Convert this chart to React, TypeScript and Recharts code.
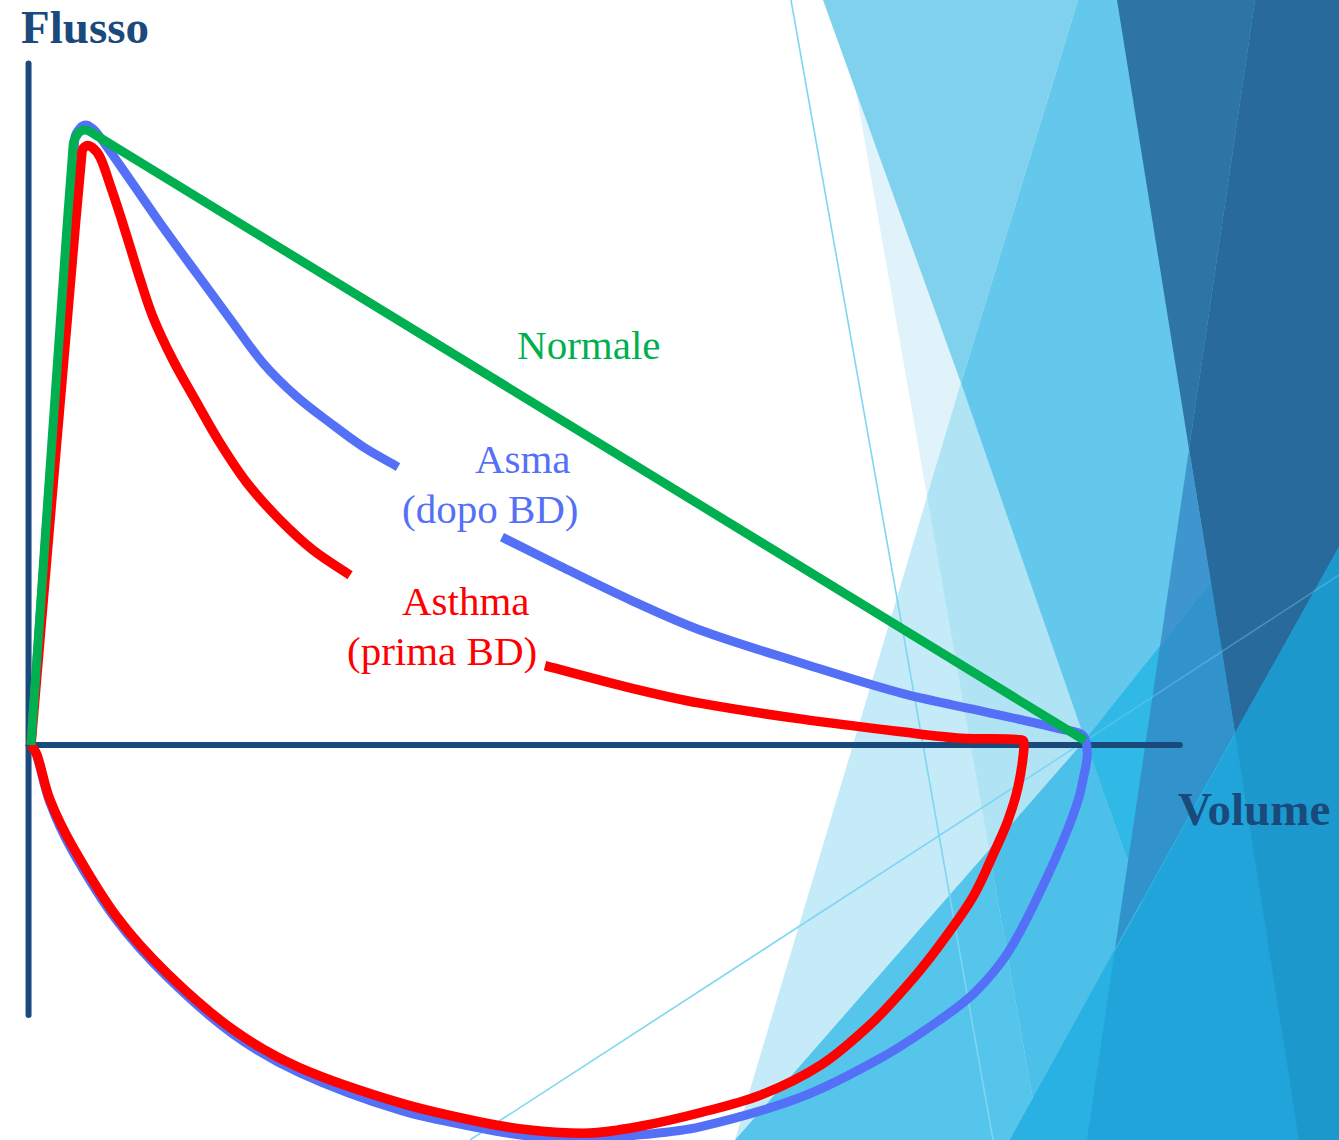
import React from "react";
import { LineChart, Line, XAxis, YAxis, ReferenceLine, ReferenceDot } from "recharts";

// ---------- DATA (volume in L, flow in L/s) ----------
const normaleVolume = [0, 0.24, 0.27, 0.31, 0.35, 6.0];
const normaleFlow = [0, 9.76, 9.95, 10.0, 9.95, 0.07];

const asmaDopoVolume = [
  0, 0.25, 0.279, 0.313, 0.347, 0.376, 0.564, 0.751, 0.945, 1.133, 1.321, 1.514, 1.702, 1.89, 2.089, 2.38,
  2.681, 3.011, 3.41, 3.808, 4.389, 4.97, 5.431, 5.858, 6.0, 5.98, 5.9, 5.74, 5.56, 5.374, 5.174, 4.85, 4.389,
  3.808, 3.467, 3.182, 2.841, 2.556, 2.101, 1.531, 1.15, 0.774, 0.49, 0.233, 0.108, 0.028, 0,
];
const asmaDopoFlow = [
  0, 9.87, 10.03, 10.08, 10.03, 9.95, 9.19, 8.42, 7.66, 6.93, 6.21, 5.66, 5.24, 4.85, 4.52, null,
  3.38, 2.91, 2.36, 1.87, 1.33, 0.83, 0.54, 0.26, 0.1, -0.68, -1.38, -2.41, -3.38, -4.02, -4.47, -5.07, -5.72,
  -6.21, -6.34, -6.39, -6.36, -6.23, -5.94, -5.33, -4.7, -3.77, -2.86, -1.71, -0.94, -0.13, 0,
];

const asthmaPrimaVolume = [
  0, 0.29, 0.313, 0.347, 0.393, 0.45, 0.507, 0.564, 0.62, 0.694, 0.808, 0.945, 1.076, 1.23, 1.417, 1.605,
  1.816, 2.35, 2.926, 3.41, 3.808, 4.389, 4.97, 5.294, 5.641, 5.653, 5.619, 5.562, 5.488, 5.362, 5.152, 4.975,
  4.776, 4.503, 4.156, 3.808, 3.467, 3.182, 2.841, 2.556, 2.101, 1.531, 1.15, 0.774, 0.49, 0.239, 0.108, 0.034,
  0,
];
const asthmaPrimaFlow = [
  0, 9.64, 9.74, 9.72, 9.56, 9.11, 8.62, 8.1, 7.58, 6.96, 6.26, 5.56, 4.91, 4.26, 3.66, 3.17,
  2.76, null, 1.29, 0.93, 0.68, 0.42, 0.21, 0.11, 0.08, -0.03, -0.68, -1.22, -1.71, -2.47, -3.33, -3.95,
  -4.55, -5.19, -5.69, -5.98, -6.2, -6.31, -6.26, -6.13, -5.82, -5.25, -4.63, -3.71, -2.8, -1.66, -0.89, -0.16,
  0,
];

const seriesLabels = ["Normale", "Asma", "(dopo BD)", "Asthma", "(prima BD)"];
const labelVolume = [2.767, 2.527, 2.112, 2.112, 1.799];
const labelFlow = [6.276, 4.423, 3.61, 2.114, 1.301];

const axisTitles = ["Flusso", "Volume"];
const axisTitleVolume = [-0.057, 6.529];
const axisTitleFlow = [11.415, -1.301];

// axis extents (data units)
const AXIS_X = -0.014;
const AXIS_TOP = 11.08;
const AXIS_BOTTOM = -4.39;
const AXIS_RIGHT = 6.54;

const X_DOMAIN: [number, number] = [-0.1765, 7.4458];
const Y_DOMAIN: [number, number] = [-6.423, 12.114];

const zip = (vs: number[], fs: (number | null)[]) => vs.map((v, i) => ({ v, f: fs[i] }));
const normaleData = zip(normaleVolume, normaleFlow);
const asmaData = zip(asmaDopoVolume, asmaDopoFlow);
const asthmaData = zip(asthmaPrimaVolume, asthmaPrimaFlow);

// ---------- STYLE ----------
const W = 1339;
const H = 1140;
const GREEN = "#00B050";
const BLUE = "#5470F6";
const RED = "#FF0000";
const NAVY = "#1A4A7C";
const SERIF = "'Liberation Serif', 'Times New Roman', serif";
const labelColors = [GREEN, BLUE, BLUE, RED, RED];

// decorative background facets
const bgFacets = [
  { p: "840,0 1339,0 1339,1140 1040,1140", c: "#E0F3FA" },
  { p: "961,383 735,1140 1227,1140", c: "#C5EBF8" },
  { p: "961,383 927,496 1040,1140 1227,1140", c: "#B0E4F5" },
  { p: "989,850 735,1140 1040,1140", c: "#55C5EB" },
  { p: "1085,740 989,850 1040,1140 1227,1140", c: "#4CC0E9" },
  { p: "1078,0 1339,0 1339,1140 1227,1140 1085,740 961,383", c: "#63C8EC" },
  { p: "1085,740 1339,421 1339,1140 1227,1140", c: "#30B8E6" },
  { p: "823,0 1078,0 961,383", c: "#7FD1EE" },
  { p: "1117,0 1255,0 1189,449", c: "#2E75A6" },
  { p: "1255,0 1339,0 1339,547 1235,733 1189,449", c: "#276A9B" },
  { p: "1189,449 1211,582 1160,646", c: "#3F96CE" },
  { p: "1160,646 1211,582 1235,733 1115,949", c: "#3192CC" },
  { p: "1339,547 1010,1140 1339,1140", c: "#20A4DA" },
  { p: "1235,733 1339,547 1339,1140 1299,1140", c: "#1C98CC" },
  { p: "1115,949 1010,1140 1087,1140", c: "#28B1E2" },
];
const bgStreaks = [
  { x1: 791, y1: 0, x2: 993, y2: 1140, o: 1 },
  { x1: 470, y1: 1140, x2: 1085, y2: 741, o: 1 },
  { x1: 1085, y1: 741, x2: 1339, y2: 575, o: 0.35 },
];

// smooth parametric curve (tangent from neighbours, length from segment)
const smoothCurve = (context: any) => {
  let pts: [number, number][] = [];
  return {
    areaStart() {},
    areaEnd() {},
    lineStart() {
      pts = [];
    },
    point(x: number, y: number) {
      pts.push([+x, +y]);
    },
    lineEnd() {
      if (!pts.length) return;
      context.moveTo(pts[0][0], pts[0][1]);
      if (pts.length === 1) {
        context.lineTo(pts[0][0], pts[0][1]);
        return;
      }
      const norm = (dx: number, dy: number) => {
        const l = Math.hypot(dx, dy) || 1;
        return [dx / l, dy / l];
      };
      for (let i = 0; i < pts.length - 1; i++) {
        const p0 = pts[i - 1] || pts[i];
        const p1 = pts[i];
        const p2 = pts[i + 1];
        const p3 = pts[i + 2] || p2;
        const d = Math.hypot(p2[0] - p1[0], p2[1] - p1[1]);
        const t1 = norm(p2[0] - p0[0], p2[1] - p0[1]);
        const t2 = norm(p3[0] - p1[0], p3[1] - p1[1]);
        context.bezierCurveTo(
          p1[0] + (t1[0] * d) / 3,
          p1[1] + (t1[1] * d) / 3,
          p2[0] - (t2[0] * d) / 3,
          p2[1] - (t2[1] * d) / 3,
          p2[0],
          p2[1]
        );
      }
    },
  };
};

const makeTextLabel = (text: string, color: string, size: number, bold: boolean) => (props: any) => {
  const vb = props.viewBox || {};
  const x = (vb.x ?? props.x ?? 0) + (vb.width ?? 0) / 2;
  const y = (vb.y ?? props.y ?? 0) + (vb.height ?? 0) / 2;
  return (
    <text
      x={x}
      y={y}
      fill={color}
      fontSize={size}
      fontFamily={SERIF}
      fontWeight={bold ? "bold" : "normal"}
      textAnchor="start"
    >
      {text}
    </text>
  );
};

const lineCommon = {
  dataKey: "f",
  dot: false,
  activeDot: false,
  isAnimationActive: false,
  strokeLinejoin: "round" as const,
  type: smoothCurve as any,
  connectNulls: false,
};

export default function App() {
  return (
    <div
      style={{
        position: "absolute",
        left: 0,
        top: 0,
        width: W,
        height: H,
        background: "#ffffff",
        overflow: "hidden",
      }}
    >
      <svg width={W} height={H} style={{ position: "absolute", left: 0, top: 0 }}>
        {bgFacets.map((f, i) => (
          <polygon key={i} points={f.p} fill={f.c} />
        ))}
        {bgStreaks.map((s, i) => (
          <line
            key={i}
            x1={s.x1}
            y1={s.y1}
            x2={s.x2}
            y2={s.y2}
            stroke="#7ED6F2"
            strokeOpacity={s.o}
            strokeWidth={1.6}
          />
        ))}
      </svg>
      <div style={{ position: "absolute", left: 0, top: 0 }}>
        <LineChart width={W} height={H} margin={{ top: 0, right: 0, bottom: 0, left: 0 }}>
          <XAxis type="number" dataKey="v" domain={X_DOMAIN} hide allowDataOverflow />
          <YAxis type="number" domain={Y_DOMAIN} hide allowDataOverflow />
          <ReferenceLine
            segment={[
              { x: AXIS_X, y: AXIS_TOP },
              { x: AXIS_X, y: AXIS_BOTTOM },
            ]}
            stroke={NAVY}
            strokeWidth={6}
            strokeLinecap="round"
            ifOverflow="visible"
          />
          <ReferenceLine
            segment={[
              { x: AXIS_X, y: 0 },
              { x: AXIS_RIGHT, y: 0 },
            ]}
            stroke={NAVY}
            strokeWidth={6}
            strokeLinecap="round"
            ifOverflow="visible"
          />
          <Line {...lineCommon} data={asmaData} name="Asma (dopo BD)" stroke={BLUE} strokeWidth={9} style={{ strokeWidth: 9 }} />
          <Line {...lineCommon} data={asthmaData} name="Asthma (prima BD)" stroke={RED} strokeWidth={9.5} style={{ strokeWidth: 9.5 }} />
          <Line {...lineCommon} data={normaleData} name="Normale" stroke={GREEN} strokeWidth={9} style={{ strokeWidth: 9 }} />
          {seriesLabels.map((t, i) => (
            <ReferenceDot
              key={"l" + i}
              x={labelVolume[i]}
              y={labelFlow[i]}
              r={0}
              fill="none"
              stroke="none"
              ifOverflow="visible"
              label={makeTextLabel(t, labelColors[i], 41, false)}
            />
          ))}
          {axisTitles.map((t, i) => (
            <ReferenceDot
              key={"a" + i}
              x={axisTitleVolume[i]}
              y={axisTitleFlow[i]}
              r={0}
              fill="none"
              stroke="none"
              ifOverflow="visible"
              label={makeTextLabel(t, NAVY, 47, true)}
            />
          ))}
        </LineChart>
      </div>
    </div>
  );
}
